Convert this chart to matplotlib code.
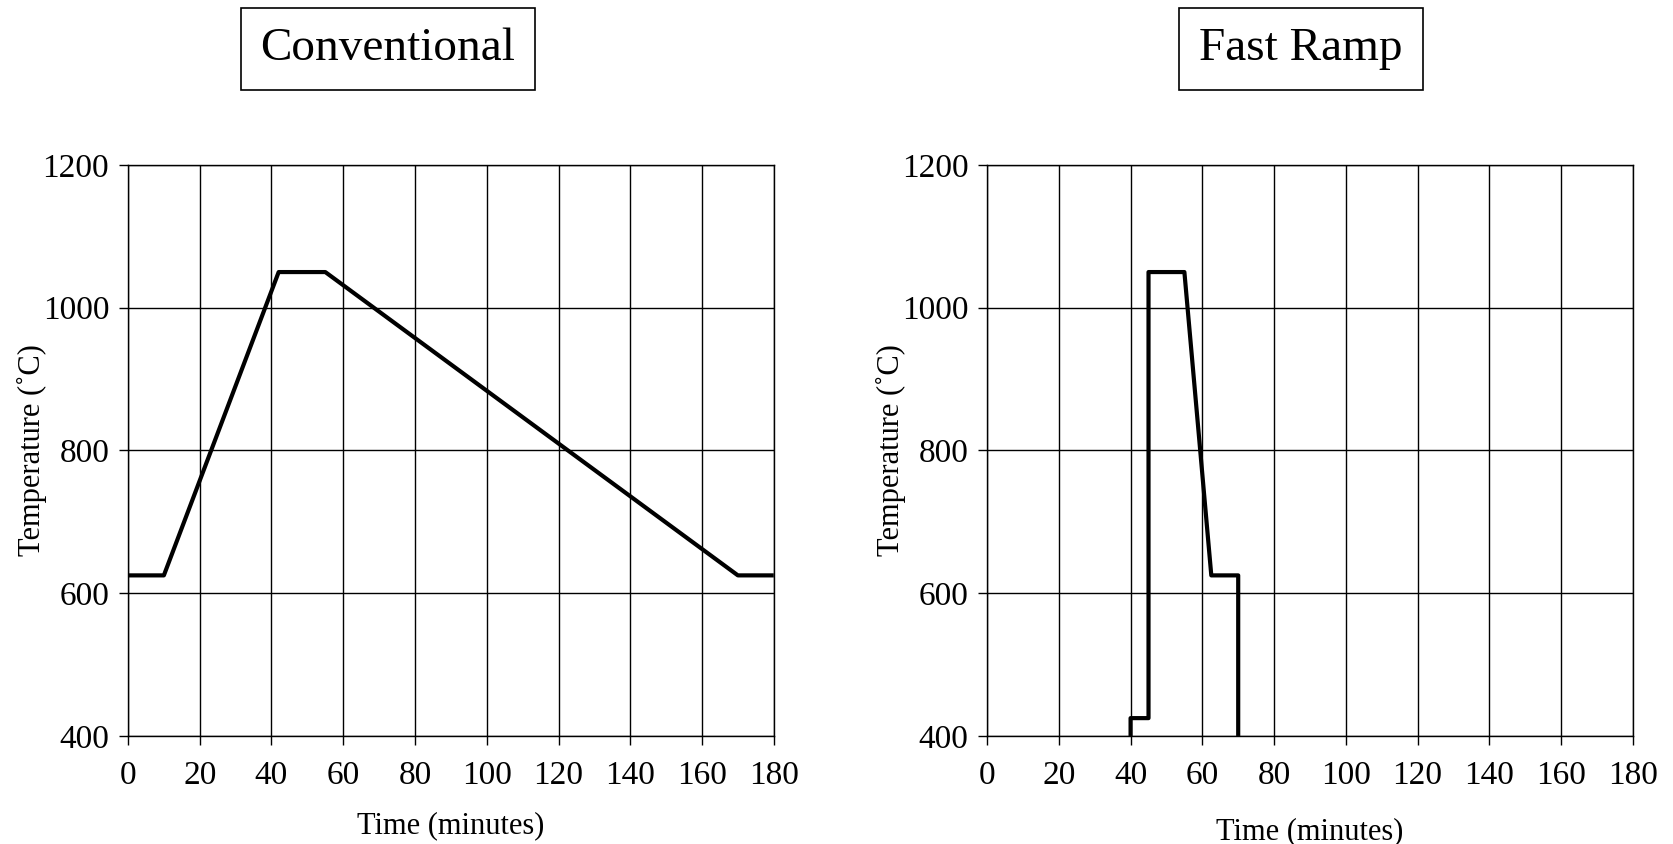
import numpy as np
import matplotlib.pyplot as plt

plt.rcParams['font.family'] = ['Liberation Serif', 'DejaVu Serif']

# conventional anneal profile
conv_t = [0, 10, 42, 55, 170, 180]
conv_T = [625, 625, 1050, 1050, 625, 625]

# fast ramp profile
fast_t = [40, 40, 45, 45, 55, 62.5, 70, 70]
fast_T = [400, 425, 425, 1050, 1050, 625, 625, 400]

xticks = np.arange(0, 181, 20)
yticks = np.arange(400, 1201, 200)


def style_ax(ax):
  ax.set_xlim(0, 180)
  ax.set_ylim(400, 1200)
  ax.set_xticks(xticks)
  ax.set_yticks(yticks)
  ax.grid(True, color='black', lw=1.0)
  ax.set_axisbelow(True)
  for s in ax.spines.values():
    s.set_linewidth(1.0)
  ax.tick_params(direction='out', length=6.5, width=1.0, labelsize=24, pad=7)
  ax.tick_params(axis='x', pad=11)
  ax.set_ylabel('Temperature (˚C)', fontsize=22, labelpad=-3)


fig = plt.figure(figsize=(16.73, 8.44), dpi=100)

ax1 = fig.add_axes([0.0765, 0.128, 0.386, 0.6765])
style_ax(ax1)
ax1.plot(conv_t, conv_T, color='black', lw=3, clip_on=False, solid_capstyle='butt')
ax1.set_xlabel('Time (minutes)', fontsize=22, labelpad=15)

ax2 = fig.add_axes([0.590, 0.128, 0.386, 0.6765])
style_ax(ax2)
ax2.plot(fast_t, fast_T, color='black', lw=3, clip_on=False, solid_capstyle='butt')
ax2.set_xlabel('Time (minutes)', fontsize=22, labelpad=19)

box = dict(boxstyle='square,pad=0.42', facecolor='white', edgecolor='black', lw=1.2)
fig.text(388 / 1673, 1 - 49 / 844, 'Conventional', fontsize=34, ha='center', va='center', bbox=box)
fig.text(1301 / 1673, 1 - 49 / 844, 'Fast Ramp', fontsize=34, ha='center', va='center', bbox=box)

fig.savefig('out.png', dpi=100)
